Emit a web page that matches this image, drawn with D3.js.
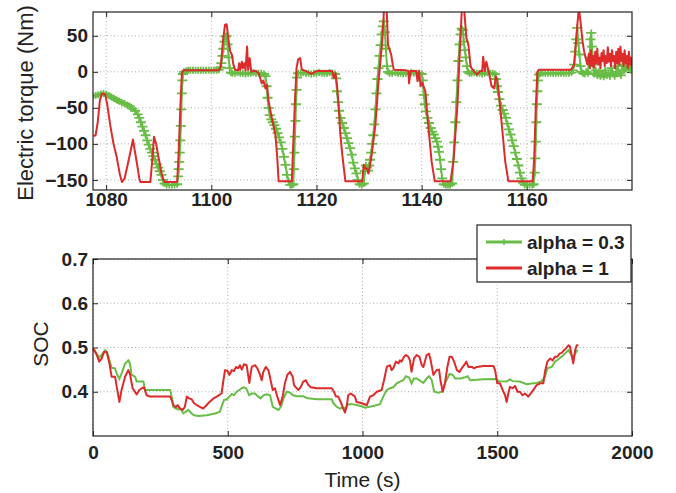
<!DOCTYPE html>
<html>
<head>
<meta charset="utf-8">
<script src="https://cdn.jsdelivr.net/npm/d3@7"></script>
<style>
    body { margin: 0; background: #fff; }
    text { font-family: 'Liberation Sans', Arial, Helvetica, sans-serif; fill: #222; }
</style>
</head>
<body>
<script>
// torque, alpha = 0.3 : [time (s), torque (Nm)]
const torqueAlpha03 = [
    [1077.5,-34],[1078,-33],[1078.5,-32],[1079,-31],[1079.5,-30],[1080,-31],[1080.5,-33],[1081,-35],[1081.5,-37],[1082,-39],
    [1082.5,-41],[1083,-43],[1083.5,-44],[1084,-46],[1084.5,-48],[1085,-51],[1085.5,-54],[1086,-59],[1086.3,-64],[1086.6,-70],
    [1086.9,-76],[1087.2,-82],[1087.5,-88],[1087.8,-95],[1088.1,-101],[1088.4,-107],[1088.7,-112],[1089,-117],[1089.3,-122],[1089.6,-128],
    [1089.9,-133],[1090.2,-138],[1090.5,-143],[1090.8,-150],[1091.1,-155],[1091.5,-157],[1092,-157],[1092.5,-157],[1093,-157],[1093.5,-156],
    [1093.7,-145],[1093.8,-135],[1093.9,-125],[1094,-112],[1094.1,-95],[1094.2,-75],[1094.3,-52],[1094.4,-30],[1094.5,-12],[1094.6,-3],
    [1094.8,0],[1095.2,1],[1095.6,2],[1096,2],[1096.5,2],[1097,2],[1097.5,2],[1098,2],[1098.5,2],[1099,2],[1099.5,2],[1100,2],[1100.5,2],[1101,2],
    [1101.4,3],[1101.7,6],[1101.9,12],[1102.1,22],[1102.3,32],[1102.5,42],[1102.7,49],[1102.9,50],[1103.1,38],[1103.3,20],[1103.5,5],[1103.7,-1],
    [1104,-2],[1104.5,-2],[1105,-1],[1105.5,-2],[1106,-2],[1106.5,-3],[1107,-2],[1107.5,-2],[1108,-1],[1108.5,-2],[1109,-2],[1109.5,-2],[1110,-3],
    [1110.3,-6],[1110.5,-20],[1110.7,-36],[1110.9,-50],[1111.1,-60],[1111.4,-66],[1111.7,-70],[1112,-74],[1112.3,-79],[1112.6,-85],[1112.9,-91],
    [1113.2,-98],[1113.5,-107],[1113.8,-118],[1114.1,-129],[1114.4,-143],[1114.7,-152],[1115,-157],[1115.3,-157],[1115.6,-156],[1115.7,-135],
    [1115.8,-112],[1115.9,-90],[1116,-68],[1116.1,-45],[1116.2,-25],[1116.3,-8],[1116.5,-2],[1117,-2],[1117.5,-1],[1118,-2],[1118.5,-2],[1119,-3],
    [1119.5,-2],[1120,-2],[1120.5,-1],[1121,-2],[1121.5,-2],[1122,-2],[1122.5,-1],[1123,-2],[1123.5,-3],
    [1123.7,-9],[1123.9,-27],[1124.1,-42],[1124.3,-54],[1124.6,-64],[1124.9,-71],[1125.2,-78],[1125.5,-85],[1125.8,-92],[1126.1,-99],[1126.4,-106],
    [1126.7,-115],[1127,-126],[1127.3,-134],[1127.6,-141],[1127.9,-150],[1128.2,-156],[1128.6,-157],[1129,-155],[1129.2,-138],[1129.4,-130],
    [1129.6,-133],[1129.8,-137],[1130,-130],[1130.2,-122],[1130.4,-112],[1130.6,-100],[1130.8,-88],[1131,-73],[1131.2,-52],[1131.4,-30],[1131.6,-10],
    [1131.8,5],[1132,22],[1132.2,37],[1132.4,52],[1132.6,63],[1132.8,70],[1133,55],[1133.2,32],[1133.4,8],[1133.6,0],[1133.9,-2],[1134.4,-2],
    [1135,-1],[1135.5,-2],[1136,-2],[1136.5,-3],[1137,-2],[1137.5,-2],[1138,-1],[1138.5,-2],[1139,-2],[1139.5,-2],[1140,-3],
    [1140.2,-12],[1140.4,-32],[1140.6,-45],[1140.8,-55],[1141.1,-64],[1141.4,-71],[1141.7,-78],[1142,-83],[1142.3,-87],[1142.6,-92],[1142.9,-97],
    [1143.1,-104],[1143.3,-111],[1143.5,-122],[1143.7,-135],[1143.9,-148],[1144.2,-156],[1144.6,-157],[1145,-157],[1145.4,-157],[1145.8,-155],
    [1146,-125],[1146.2,-98],[1146.4,-70],[1146.6,-42],[1146.8,-12],[1147,15],[1147.2,38],[1147.4,52],[1147.6,60],[1147.8,58],[1148,42],
    [1148.2,30],[1148.4,20],[1148.6,8],[1148.8,0],[1149.1,-2],[1149.5,-2],[1150,-1],[1150.5,-2],[1151,-2],[1151.5,-3],[1152,-2],[1152.5,-1],
    [1153,-2],[1153.5,-2],[1153.9,-3],
    [1154.1,-10],[1154.3,-20],[1154.5,-28],[1154.8,-38],[1155.1,-47],[1155.4,-53],[1155.7,-58],[1156,-64],[1156.3,-72],[1156.6,-80],[1156.9,-87],
    [1157.2,-95],[1157.5,-103],[1157.8,-112],[1158.1,-121],[1158.4,-130],[1158.7,-140],[1159,-148],[1159.3,-154],[1159.6,-157],[1160,-157],
    [1160.5,-157],[1161,-157],[1161.3,-156],[1161.5,-140],[1161.6,-120],[1161.7,-97],[1161.8,-70],[1161.9,-45],[1162,-27],[1162.1,-12],[1162.3,-4],
    [1162.6,-2],[1163,-2],[1163.5,-2],[1164,-2],[1164.5,-2],[1165,-2],[1165.5,-2],[1166,-2],[1166.5,-2],[1167,-2],[1167.5,-2],[1168,-2],[1168.5,-1],
    [1168.8,2],[1169,10],[1169.2,28],[1169.4,45],[1169.6,61],[1169.8,40],[1170,24],[1170.2,8],[1170.4,0],[1170.7,-2],[1171,-3],[1171.3,0],
    [1171.6,-2],[1171.9,20],[1172.1,45],[1172.25,54],[1172.4,35],[1172.6,10],[1172.8,-3],[1173.1,2],[1173.4,-5],[1173.7,0],[1174,-6],[1174.3,-3],
    [1174.6,-7],[1174.9,2],[1175.2,-5],[1175.5,-2],[1175.8,-6],[1176.1,5],[1176.4,-3],[1176.7,-6],[1177,0],[1177.3,8],[1177.6,-2],[1177.9,-5],
    [1178.2,10],[1178.5,2],[1178.8,4],[1179.1,14],[1179.4,8],[1179.7,2],[1180,6]
]

// torque, alpha = 1
const torqueAlpha1 = [
    [1077.6,-89],[1078,-88],[1078.4,-70],[1078.8,-40],[1079.2,-30],[1079.8,-31],[1080.2,-45],[1080.8,-75],[1081.4,-100],[1082,-118],
    [1082.6,-142],[1083,-153],[1083.5,-148],[1084,-132],[1084.5,-115],[1085.1,-94],[1085.5,-112],[1085.9,-129],[1086.3,-148],[1086.5,-153],
    [1088.4,-153],[1088.8,-120],[1089.1,-90],[1089.5,-100],[1090,-120],[1090.5,-140],[1090.9,-150],[1091.2,-153],[1093.5,-153],[1093.8,-110],
    [1094.1,-50],[1094.4,-2],[1094.7,2],[1101.4,2],[1101.8,7],[1102.2,42],[1102.6,65],[1102.9,66],[1103.1,55],[1103.3,42],[1103.6,28],
    [1103.9,24],[1104.2,10],[1104.5,3],[1105.1,2],[1105.3,12],[1105.5,3],[1105.8,14],[1106,5],[1106.3,12],[1106.5,2],[1106.8,35],[1107,3],
    [1107.3,19],[1107.6,0],[1108,1],[1108.5,1],[1109,-2],[1109.3,-9],[1109.6,-16],[1109.9,-12],[1110.3,-23],[1110.6,-18],[1110.9,-41],
    [1111.5,-64],[1112.2,-88],[1112.5,-115],[1112.8,-152],[1115.3,-152],[1115.6,-97],[1115.9,-41],[1116.2,5],[1116.5,17],[1116.9,19],
    [1117.2,3],[1118,1],[1119,-3],[1120,1],[1121,1],[1122,1],[1123,1],[1123.3,-9],[1123.6,-2],[1123.9,-18],[1124.2,-46],[1124.5,-83],
    [1124.9,-115],[1125.5,-152],[1128.7,-152],[1129,-129],[1129.3,-134],[1129.6,-134],[1129.9,-141],[1130.4,-120],[1131.2,-74],[1131.8,-13],
    [1132.5,42],[1132.9,95],[1133.3,95],[1133.6,37],[1134.2,24],[1134.5,10],[1134.7,3],[1137,2],[1137.5,1],[1137.6,-16],[1137.9,1],[1139,1],
    [1139.2,-13],[1139.5,1],[1139.8,-20],[1140.1,-15],[1140.7,-27],[1141.3,-78],[1141.9,-125],[1142.5,-152],[1145.5,-152],[1146.1,-120],
    [1146.8,-46],[1147.4,51],[1147.7,95],[1148,95],[1148.5,47],[1148.9,37],[1149.3,7],[1149.9,1],[1150.5,-4],[1151.1,1],[1151.5,1],[1151.7,21],
    [1152,1],[1152.3,14],[1152.7,2],[1153.3,-20],[1153.8,-23],[1154.1,-6],[1154.4,-12],[1154.7,-32],[1155.3,-78],[1155.9,-125],[1156.5,-152],
    [1161.1,-152],[1161.4,-120],[1161.7,-50],[1162,0],[1162.3,3],[1168.4,3],[1169,10],[1169.6,65],[1169.9,88],[1170.2,70],[1170.6,42],
    [1170.9,28],[1171.5,10],[1171.8,25],[1172,5],[1172.2,30],[1172.4,8],[1172.6,22],[1172.8,6],[1173,28],[1173.2,12],[1173.4,32],[1173.6,10],
    [1173.8,20],[1174,5],[1174.2,26],[1174.4,15],[1174.6,30],[1174.8,8],[1175,22],[1175.2,12],[1175.4,34],[1175.6,14],[1175.8,25],[1176,8],
    [1176.2,30],[1176.4,15],[1176.6,22],[1176.8,5],[1177,28],[1177.2,12],[1177.4,32],[1177.6,10],[1177.8,35],[1178,15],[1178.2,25],[1178.4,8],
    [1178.6,30],[1178.8,12],[1179,22],[1179.2,5],[1179.4,28],[1179.6,10],[1179.8,20],[1180,5]
]

// SOC, alpha = 0.3 : [time (s), soc]
const socAlpha03 = [
    [1,0.498],[14,0.486],[23,0.477],[32,0.483],[45,0.494],[53,0.488],[61,0.471],[69,0.454],[82,0.453],[88,0.441],[98,0.429],[106,0.441],
    [119,0.464],[131,0.471],[137,0.464],[143,0.438],[156,0.434],[162,0.423],[187,0.423],[193,0.404],[286,0.404],[292,0.389],[298,0.366],
    [308,0.362],[317,0.360],[325,0.362],[335,0.351],[345,0.355],[354,0.359],[366,0.351],[375,0.347],[391,0.345],[422,0.347],[453,0.351],
    [471,0.355],[477,0.366],[486,0.381],[496,0.383],[506,0.389],[515,0.395],[523,0.392],[533,0.400],[543,0.404],[552,0.408],[560,0.410],
    [568,0.408],[580,0.392],[589,0.396],[601,0.396],[613,0.389],[622,0.385],[632,0.392],[644,0.394],[657,0.392],[667,0.366],[679,0.362],
    [688,0.359],[697,0.366],[707,0.385],[719,0.400],[731,0.398],[743,0.392],[756,0.390],[780,0.390],[793,0.386],[805,0.385],[830,0.383],
    [886,0.383],[892,0.374],[904,0.366],[917,0.362],[926,0.365],[935,0.362],[947,0.372],[960,0.372],[978,0.370],[1003,0.366],[1009,0.364],
    [1040,0.368],[1065,0.372],[1077,0.389],[1090,0.404],[1102,0.408],[1114,0.410],[1127,0.419],[1139,0.423],[1151,0.426],[1161,0.435],
    [1173,0.432],[1182,0.419],[1191,0.430],[1201,0.430],[1213,0.425],[1226,0.420],[1238,0.430],[1247,0.435],[1257,0.426],[1266,0.400],
    [1282,0.398],[1294,0.400],[1306,0.419],[1323,0.440],[1335,0.438],[1344,0.430],[1363,0.430],[1377,0.432],[1390,0.435],[1400,0.426],
    [1449,0.428],[1498,0.429],[1504,0.424],[1535,0.423],[1547,0.428],[1557,0.424],[1584,0.423],[1609,0.417],[1634,0.419],[1646,0.420],
    [1665,0.424],[1677,0.434],[1686,0.453],[1702,0.456],[1714,0.468],[1731,0.475],[1746,0.483],[1764,0.494],[1773,0.485],[1782,0.475],
    [1789,0.486],[1798,0.495]
]

// SOC, alpha = 1
const socAlpha1 = [
    [1,0.498],[14,0.483],[23,0.468],[32,0.475],[41,0.490],[51,0.490],[61,0.464],[69,0.434],[82,0.434],[88,0.411],[98,0.377],[106,0.404],
    [119,0.434],[131,0.449],[137,0.441],[147,0.408],[162,0.394],[172,0.404],[181,0.408],[189,0.410],[199,0.392],[211,0.389],[286,0.389],
    [292,0.381],[298,0.370],[308,0.365],[314,0.370],[323,0.362],[333,0.359],[341,0.366],[348,0.389],[357,0.385],[366,0.383],[375,0.374],
    [385,0.370],[397,0.366],[409,0.362],[422,0.370],[432,0.377],[447,0.385],[459,0.389],[477,0.396],[484,0.426],[490,0.449],[499,0.447],
    [506,0.438],[515,0.449],[523,0.447],[531,0.456],[539,0.453],[545,0.460],[552,0.450],[560,0.462],[570,0.460],[580,0.420],[589,0.456],
    [601,0.460],[610,0.453],[620,0.438],[626,0.426],[632,0.445],[641,0.456],[651,0.449],[659,0.426],[667,0.404],[675,0.408],[684,0.389],
    [694,0.370],[704,0.389],[712,0.419],[721,0.438],[731,0.445],[741,0.434],[746,0.415],[753,0.410],[762,0.404],[771,0.411],[780,0.423],
    [790,0.426],[799,0.415],[808,0.410],[830,0.408],[886,0.408],[894,0.400],[902,0.389],[910,0.389],[919,0.377],[926,0.366],[935,0.353],
    [941,0.366],[947,0.392],[956,0.396],[966,0.392],[972,0.389],[978,0.377],[991,0.375],[1016,0.370],[1028,0.389],[1040,0.392],[1053,0.400],
    [1071,0.404],[1080,0.426],[1090,0.456],[1102,0.460],[1108,0.449],[1114,0.453],[1124,0.468],[1133,0.464],[1139,0.471],[1145,0.468],
    [1154,0.479],[1161,0.483],[1170,0.479],[1176,0.471],[1182,0.445],[1191,0.475],[1201,0.483],[1211,0.479],[1220,0.460],[1226,0.456],
    [1238,0.483],[1247,0.486],[1253,0.471],[1263,0.438],[1275,0.449],[1284,0.450],[1290,0.423],[1298,0.400],[1306,0.419],[1315,0.456],
    [1323,0.479],[1331,0.479],[1340,0.468],[1350,0.449],[1360,0.445],[1368,0.453],[1377,0.460],[1385,0.468],[1393,0.456],[1406,0.456],
    [1414,0.453],[1424,0.456],[1449,0.458],[1486,0.458],[1492,0.449],[1500,0.419],[1510,0.419],[1520,0.404],[1529,0.392],[1535,0.377],
    [1541,0.396],[1547,0.411],[1557,0.408],[1566,0.413],[1575,0.400],[1584,0.400],[1594,0.392],[1603,0.396],[1615,0.389],[1624,0.396],
    [1634,0.404],[1646,0.415],[1659,0.419],[1671,0.419],[1677,0.445],[1686,0.468],[1696,0.475],[1706,0.471],[1714,0.479],[1723,0.479],
    [1731,0.486],[1739,0.488],[1748,0.494],[1755,0.498],[1764,0.505],[1770,0.502],[1776,0.483],[1782,0.464],[1789,0.494],[1795,0.505],
    [1801,0.505]
]

// tick labels
const torqueTimeTicks = [1080, 1100, 1120, 1140, 1160]
const torqueTicks = [-150, -100, -50, 0, 50]
const socTimeTicks = [0, 500, 1000, 1500, 2000]
const socTicks = [0.4, 0.5, 0.6, 0.7]
const legendLabels = ['alpha = 0.3', 'alpha = 1']

const measurements = {
    width: 676,
    height: 493
}
const green = '#67bd45'
const red = '#dd2b2b'

const svg = d3.select('body').append('svg')
    .attr('width', measurements.width)
    .attr('height', measurements.height)

// draws grid, ticks on four sides and the box of one subplot
function drawAxes(g, x, y, xTicks, yTicks, xPad, yFmt) {
    const [x0, x1] = x.range()
    const [y0, y1] = y.range()

    g.append('g').selectAll('line.gx')
        .data(xTicks)
        .join('line')
        .attr('x1', d => x(d)).attr('x2', d => x(d))
        .attr('y1', y0).attr('y2', y1)
        .attr('stroke', '#ababab')
        .attr('stroke-dasharray', '1,2.5')
    g.append('g').selectAll('line.gy')
        .data(yTicks)
        .join('line')
        .attr('x1', x0).attr('x2', x1)
        .attr('y1', d => y(d)).attr('y2', d => y(d))
        .attr('stroke', '#ababab')
        .attr('stroke-dasharray', '1,2.5')

    g.append('g').attr('transform', `translate(0,${y0})`)
        .call(d3.axisBottom(x).tickValues(xTicks).tickSize(-5).tickSizeOuter(0).tickPadding(xPad).tickFormat(d3.format('d')))
    g.append('g').attr('transform', `translate(${x0},0)`)
        .call(d3.axisLeft(y).tickValues(yTicks).tickSize(-5).tickSizeOuter(0).tickPadding(5).tickFormat(yFmt))
    g.append('g').attr('transform', `translate(0,${y1})`)
        .call(d3.axisTop(x).tickValues(xTicks).tickSize(-5).tickSizeOuter(0).tickFormat(''))
    g.append('g').attr('transform', `translate(${x1},0)`)
        .call(d3.axisRight(y).tickValues(yTicks).tickSize(-5).tickSizeOuter(0).tickFormat(''))

    g.selectAll('.domain').remove()
    g.selectAll('.tick line').attr('stroke', '#222')
    g.selectAll('.tick text')
        .style('font-size', '19px')
        .style('font-weight', 'bold')
        .attr('fill', '#222')
}

function drawBox(g, x, y) {
    const [x0, x1] = x.range()
    const [y0, y1] = y.range()
    g.append('rect')
        .attr('x', x0).attr('y', y1)
        .attr('width', x1 - x0).attr('height', y0 - y1)
        .attr('fill', 'none')
        .attr('stroke', '#222')
        .attr('stroke-width', 1.2)
}

// ---------- top: electric torque ----------
const xTorque = d3.scaleLinear().domain([1077.5, 1180]).range([93, 632])
const yTorque = d3.scaleLinear().domain([-164, 83]).range([190, 12])

const topG = svg.append('g')
drawAxes(topG, xTorque, yTorque, torqueTimeTicks, torqueTicks, 2, d3.format('d'))

svg.append('clipPath').attr('id', 'clipTop')
    .append('rect').attr('x', 93).attr('y', 12).attr('width', 539).attr('height', 178)

const topPlot = topG.append('g').attr('clip-path', 'url(#clipTop)')

const torqueLine = d3.line()
    .x(d => xTorque(d[0]))
    .y(d => yTorque(d[1]))

topPlot.append('path')
    .datum(torqueAlpha03)
    .attr('d', torqueLine)
    .attr('fill', 'none')
    .attr('stroke', green)
    .attr('stroke-width', 2)

// plus markers on the alpha = 0.3 curve
topPlot.selectAll('.plus')
    .data(torqueAlpha03)
    .join('path')
    .attr('class', 'plus')
    .attr('transform', d => `translate(${xTorque(d[0])},${yTorque(d[1])})`)
    .attr('d', 'M-5,0H5M0,-3.5V3.5')
    .attr('stroke', green)
    .attr('stroke-width', 1.8)

topPlot.append('path')
    .datum(torqueAlpha1)
    .attr('d', torqueLine)
    .attr('fill', 'none')
    .attr('stroke', red)
    .attr('stroke-width', 2)
    .attr('stroke-linejoin', 'round')

drawBox(topG, xTorque, yTorque)

topG.append('text')
    .attr('transform', 'translate(33,103) rotate(-90)')
    .attr('text-anchor', 'middle')
    .style('font-size', '22px')
    .text('Electric torque (Nm)')

// ---------- bottom: SOC ----------
const xSoc = d3.scaleLinear().domain([0, 2000]).range([93, 632])
const ySoc = d3.scaleLinear().domain([0.3, 0.7]).range([436, 259])

const botG = svg.append('g')
drawAxes(botG, xSoc, ySoc, socTimeTicks, socTicks, 10, d3.format('.1f'))

const socLine = d3.line()
    .x(d => xSoc(d[0]))
    .y(d => ySoc(d[1]))

botG.append('path')
    .datum(socAlpha03)
    .attr('d', socLine)
    .attr('fill', 'none')
    .attr('stroke', green)
    .attr('stroke-width', 2)

botG.append('path')
    .datum(socAlpha1)
    .attr('d', socLine)
    .attr('fill', 'none')
    .attr('stroke', red)
    .attr('stroke-width', 2)
    .attr('stroke-linejoin', 'round')

drawBox(botG, xSoc, ySoc)

botG.append('text')
    .attr('transform', 'translate(48,344) rotate(-90)')
    .attr('text-anchor', 'middle')
    .style('font-size', '21px')
    .text('SOC')

botG.append('text')
    .attr('x', 362.5)
    .attr('y', 487)
    .attr('text-anchor', 'middle')
    .style('font-size', '21px')
    .text('Time (s)')

// legend
const legend = svg.append('g').attr('transform', 'translate(477,225)')
legend.append('rect')
    .attr('width', 154).attr('height', 57)
    .attr('fill', '#fff')
    .attr('stroke', '#222')
    .attr('stroke-width', 1.2)

const items = legend.selectAll('.item')
    .data(legendLabels)
    .join('g')
    .attr('class', 'item')
    .attr('transform', (d, i) => `translate(0,${17 + i * 26})`)

items.append('line')
    .attr('x1', 9).attr('x2', 45)
    .attr('stroke', (d, i) => i === 0 ? green : red)
    .attr('stroke-width', 3)

items.filter((d, i) => i === 0).append('path')
    .attr('transform', 'translate(27,0)')
    .attr('d', 'M-4,0H4M0,-3V3')
    .attr('stroke', green)
    .attr('stroke-width', 1.5)

items.append('text')
    .attr('x', 50)
    .attr('dy', '0.36em')
    .style('font-size', '19px')
    .style('font-weight', 'bold')
    .text(d => d)
</script>
</body>
</html>
